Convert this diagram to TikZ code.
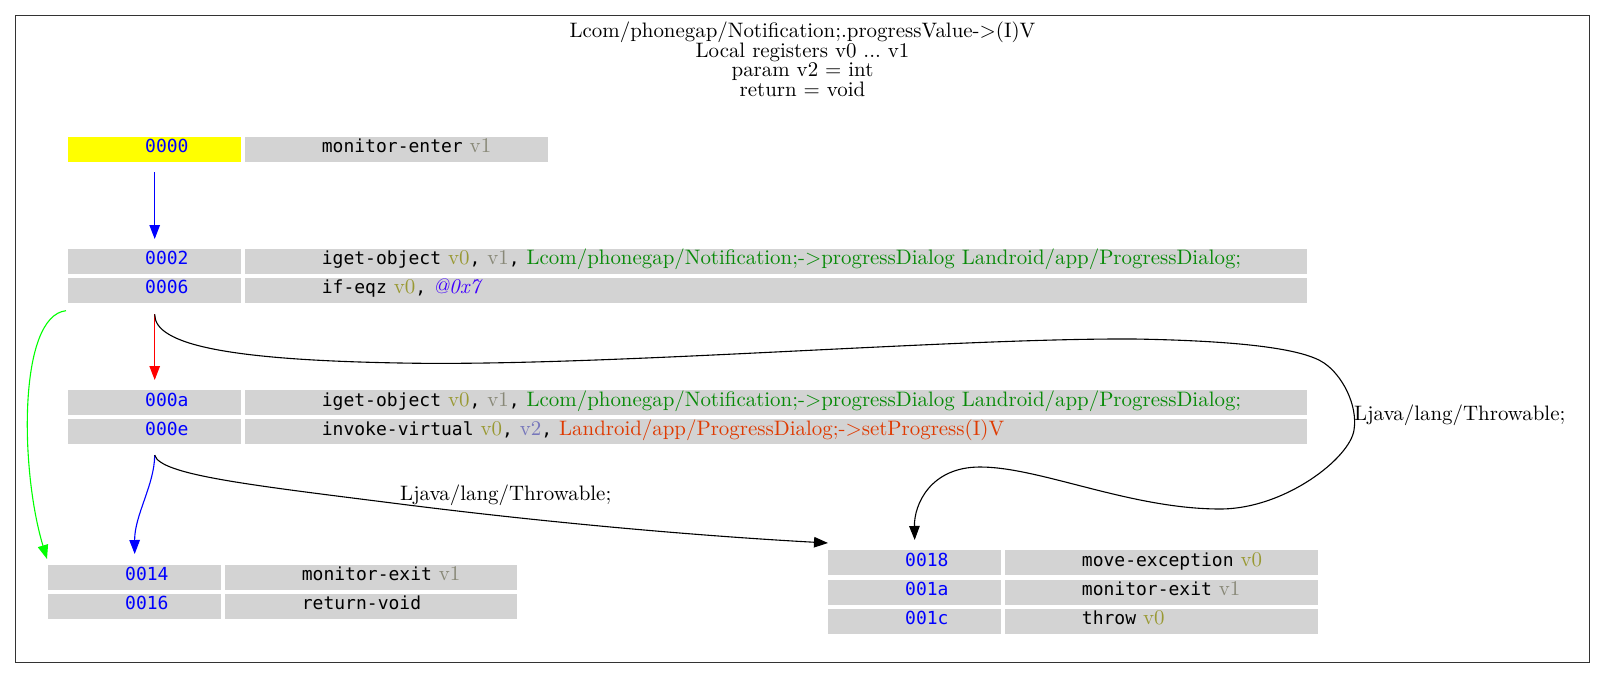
\documentclass[tikz,border=0pt]{standalone}
\usepackage{fontspec}
\setmainfont{lmroman10}[Extension=.otf,UprightFont=*-regular,ItalicFont=*-italic]
\newfontfamily\dmono{DejaVu Sans Mono}
\usetikzlibrary{arrows.meta}
\frenchspacing
\definecolor{cellgray}{HTML}{D3D3D3}
\definecolor{startyel}{HTML}{FFFF00}
\definecolor{idxblue}{HTML}{0000FF}
\definecolor{jumpblue}{HTML}{0000FF}
\definecolor{truegreen}{HTML}{00FF00}
\definecolor{falsered}{HTML}{FF0000}
\definecolor{regA}{HTML}{999933}
\definecolor{regB}{HTML}{888877}
\definecolor{regC}{HTML}{7777BB}
\definecolor{fieldc}{HTML}{088A08}
\definecolor{methodc}{HTML}{DF3A01}
\definecolor{offc}{HTML}{4000FF}
\definecolor{framec}{HTML}{333333}
\newcommand\serf{\fontsize{20.9}{19.7}\selectfont}
\newcommand\monof{\dmono\fontsize{18}{19.7}\selectfont}
\tikzset{
  cellbox/.style={fill=cellgray, inner sep=0pt, minimum height=25pt, anchor=north west},
  celltext/.style={anchor=base west, inner sep=0pt, font=\serf},
  flow/.style={line width=1.1pt, -{Triangle[length=14pt,width=10.5pt]}},
  lbl/.style={anchor=base west, inner sep=0pt, font=\serf},
}
% #1 name, #2 left x, #3 instruction width, #4 top y, #5 address fill, #6 instruction
\newcommand\brow[6]{%
  \node[cellbox, fill=#5, minimum width=173pt] (a#1) at (#2,#4) {};
  \node[cellbox, minimum width=#3pt] (i#1) at (#2+177,#4) {};
  \node[celltext, text=idxblue] (n#1) at (#2+77,#4+16) {\monof #1};
  \node[celltext] (t#1) at (#2+253.7,#4+16) {#6};
}
\begin{document}
\begin{tikzpicture}[x=1pt,y=-1pt]
\useasboundingbox (0,0) rectangle (1605,679);
\fill[white] (0,0) rectangle (1605,679);
\draw[framec, line width=1.3pt] (15.5,15.5) rectangle (1589.5,662.5);

\node[anchor=base, inner sep=0pt, font=\serf] (title1) at (802.5,37.5) {Lcom/phonegap/Notification;.progressValue->(I)V};
\node[anchor=base, inner sep=0pt, font=\serf] (title2) at (802.5,57.2) {Local registers v0 ... v1};
\node[anchor=base, inner sep=0pt, font=\serf] (title3) at (802.5,76.9) {param v2 = int};
\node[anchor=base, inner sep=0pt, font=\serf] (title4) at (802.5,96.6) {return = void};

\brow{0000}{68}{303}{136.7}{startyel}{{\monof monitor-enter} \textcolor{regB}{v1}}
\brow{0002}{68}{1062}{248.3}{cellgray}{{\monof iget-object} \textcolor{regA}{v0}{\monof,} \textcolor{regB}{v1}{\monof,} \textcolor{fieldc}{Lcom/phonegap/Notification;->progressDialog Landroid/app/ProgressDialog;}}
\brow{0006}{68}{1062}{277.3}{cellgray}{{\monof if-eqz} \textcolor{regA}{v0}{\monof,} \textcolor{offc}{\itshape @0x7}}
\brow{000a}{68}{1062}{390}{cellgray}{{\monof iget-object} \textcolor{regA}{v0}{\monof,} \textcolor{regB}{v1}{\monof,} \textcolor{fieldc}{Lcom/phonegap/Notification;->progressDialog Landroid/app/ProgressDialog;}}
\brow{000e}{68}{1062}{419}{cellgray}{{\monof invoke-virtual} \textcolor{regA}{v0}{\monof,} \textcolor{regC}{v2}{\monof,} \textcolor{methodc}{Landroid/app/ProgressDialog;->setProgress(I)V}}
\brow{0014}{48}{292}{564.3}{cellgray}{{\monof monitor-exit} \textcolor{regB}{v1}}
\brow{0016}{48}{292}{593.5}{cellgray}{{\monof return-void}}
\brow{0018}{828}{313}{550}{cellgray}{{\monof move-exception} \textcolor{regA}{v0}}
\brow{001a}{828}{313}{579.3}{cellgray}{{\monof monitor-exit} \textcolor{regB}{v1}}
\brow{001c}{828}{313}{608.7}{cellgray}{{\monof throw} \textcolor{regA}{v0}}

% connectors
\draw[flow, jumpblue] ([yshift=-10.3pt]a0000.south) -- ([yshift=9.3pt]a0002.north);
\draw[flow, falsered] ([yshift=-11.7pt]a0006.south) -- ([yshift=10pt]a000a.north);
\draw[flow, truegreen] ([xshift=-2pt,yshift=-8pt]a0006.south west) .. controls (18,316) and (20,470) .. ([xshift=-1pt,yshift=5.3pt]a0014.north west);
\draw[flow] ([yshift=-11.7pt]a0006.south) .. controls (154.5,345) and (230,360) .. (400,363)
   .. controls (600,367) and (950,338) .. (1134,339)
   .. controls (1250,341) and (1305,350) .. (1324,363)
   .. controls (1342,375) and (1358,405) .. (1354,430)
   .. controls (1350,458) and (1285,509) .. (1220,509)
   .. controls (1130,509) and (1040,467) .. (980,467)
   .. controls (930,467) and (914,505) .. ([yshift=10pt]a0018.north);
\node[lbl] (exlbl1) at (1354,420) {Ljava/lang/Throwable;};
\draw[flow, jumpblue] ([yshift=-10.7pt]a000e.south) .. controls (154.5,485) and (134.5,515) .. ([yshift=10.3pt]a0014.north);
\draw[flow] ([yshift=-10.7pt]a000e.south) .. controls (160,475) and (250,485) .. (400,504)
   .. controls (550,523) and (700,536) .. ([yshift=7pt]a0018.north west);
\node[lbl] (exlbl2) at (400,500) {Ljava/lang/Throwable;};
\end{tikzpicture}
\end{document}
